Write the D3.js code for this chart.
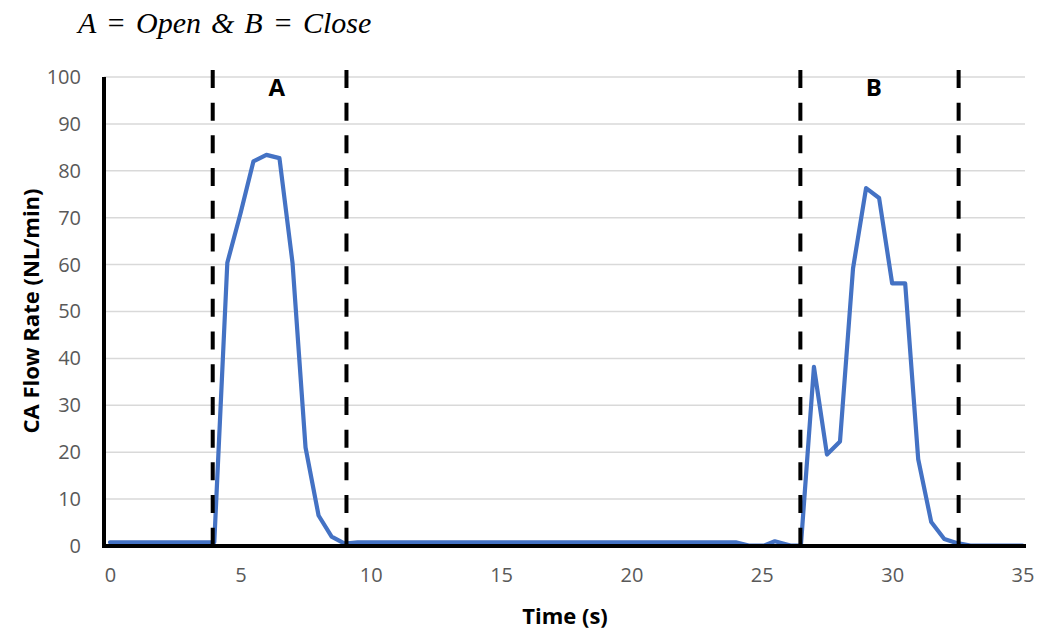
<!DOCTYPE html>
<html>
<head>
<meta charset="utf-8">
<script src="https://cdn.jsdelivr.net/npm/d3@7"></script>
<style>
	body { margin: 0; background: #fff; }
	.tick text { font-family: "Open Sans", sans-serif; font-size: 20px; fill: #595959; }
</style>
</head>
<body>
<div id="chart"></div>
<script>
// flow trace
var time = [0, 4, 4.5, 5, 5.5, 6, 6.5, 7, 7.5, 8, 8.5, 9, 9.5,
	24, 24.5, 25.1, 25.5, 26.1, 26.5, 27, 27.5, 28, 28.5, 29, 29.5,
	30, 30.5, 31, 31.5, 32, 32.5, 33, 35];
var flow = [0.8, 0.8, 60.4, 70.8, 82, 83.4, 82.7, 60.4, 21, 6.5, 2, 0.5, 0.8,
	0.8, 0.1, 0.1, 1, 0.1, 0.1, 38.2, 19.5, 22.3, 59.2, 76.3, 74.2,
	56, 56, 18.5, 5.1, 1.5, 0.6, 0.1, 0.1];

// phase markers (dashed) and their labels
var markers = [3.94, 9.07, 26.48, 32.55];
var phaseLabels = ["A", "B"];
var phaseLabelX = [6.4, 29.3];

var xTicks = [0, 5, 10, 15, 20, 25, 30, 35];
var yTicks = [0, 10, 20, 30, 40, 50, 60, 70, 80, 90, 100];

var width = 1039;
var height = 630;

var svg = d3.select("#chart")
			.append("svg")
			.attr("width", width)
			.attr("height", height);

svg.append("rect")
	.attr("width", width)
	.attr("height", height)
	.attr("fill", "#fff");

var x = d3.scaleLinear().domain([0, 35]).range([110, 1022.5]);
var y = d3.scaleLinear().domain([0, 100]).range([546, 77]);

// gridlines
svg.selectAll(".grid")
	.data(yTicks.filter(function(d) { return d > 0; }))
	.enter()
		.append("line")
		.attr("x1", 104)
		.attr("x2", 1025)
		.attr("y1", function(d) { return y(d); })
		.attr("y2", function(d) { return y(d); })
		.attr("stroke", "#d9d9d9")
		.attr("stroke-width", 1.5);

// axes (labels only, lines drawn by hand below)
svg.append("g")
	.attr("transform", "translate(104,0)")
	.call(d3.axisLeft(y).tickValues(yTicks).tickSize(0).tickPadding(23))
	.call(function(g) { g.select(".domain").remove(); });

svg.append("g")
	.attr("transform", "translate(0," + y(0) + ")")
	.call(d3.axisBottom(x).tickValues(xTicks).tickSize(0).tickPadding(22))
	.call(function(g) { g.select(".domain").remove(); });

// flow line
var line = d3.line()
	.x(function(d, i) { return x(time[i]); })
	.y(function(d) { return y(d); });

svg.append("path")
	.datum(flow)
	.attr("fill", "none")
	.attr("stroke", "#4472c4")
	.attr("stroke-width", 4.2)
	.attr("stroke-linejoin", "round")
	.attr("stroke-linecap", "round")
	.attr("d", line);

// axis lines
svg.append("line")
	.attr("x1", 104).attr("x2", 104)
	.attr("y1", y(100)).attr("y2", y(0) + 2)
	.attr("stroke", "#000").attr("stroke-width", 4);

svg.append("line")
	.attr("x1", 102).attr("x2", 1026)
	.attr("y1", y(0)).attr("y2", y(0))
	.attr("stroke", "#000").attr("stroke-width", 4);

// dashed phase markers
svg.selectAll(".marker")
	.data(markers)
	.enter()
		.append("line")
		.attr("x1", function(d) { return x(d); })
		.attr("x2", function(d) { return x(d); })
		.attr("y1", y(101.5))
		.attr("y2", y(0))
		.attr("stroke", "#000")
		.attr("stroke-width", 4)
		.attr("stroke-dasharray", "18,14.7");

svg.selectAll(".phase")
	.data(phaseLabels)
	.enter()
		.append("text")
		.attr("x", function(d, i) { return x(phaseLabelX[i]); })
		.attr("y", 96)
		.attr("text-anchor", "middle")
		.style("font-family", "'Open Sans', sans-serif")
		.style("font-weight", "bold")
		.style("font-size", "24px")
		.text(function(d) { return d; });

// titles
svg.append("text")
	.attr("x", 78)
	.attr("y", 33)
	.style("font-family", "'Liberation Serif', serif")
	.style("font-style", "italic")
	.style("font-size", "30px")
	.style("word-spacing", "2.5px")
	.text("A = Open & B = Close");

svg.append("text")
	.attr("transform", "translate(39,311) rotate(-90)")
	.attr("text-anchor", "middle")
	.style("font-family", "'Open Sans', sans-serif")
	.style("font-weight", "bold")
	.style("font-size", "22px")
	.text("CA Flow Rate (NL/min)");

svg.append("text")
	.attr("x", 565)
	.attr("y", 624)
	.attr("text-anchor", "middle")
	.style("font-family", "'Open Sans', sans-serif")
	.style("font-weight", "bold")
	.style("font-size", "22px")
	.text("Time (s)");
</script>
</body>
</html>
